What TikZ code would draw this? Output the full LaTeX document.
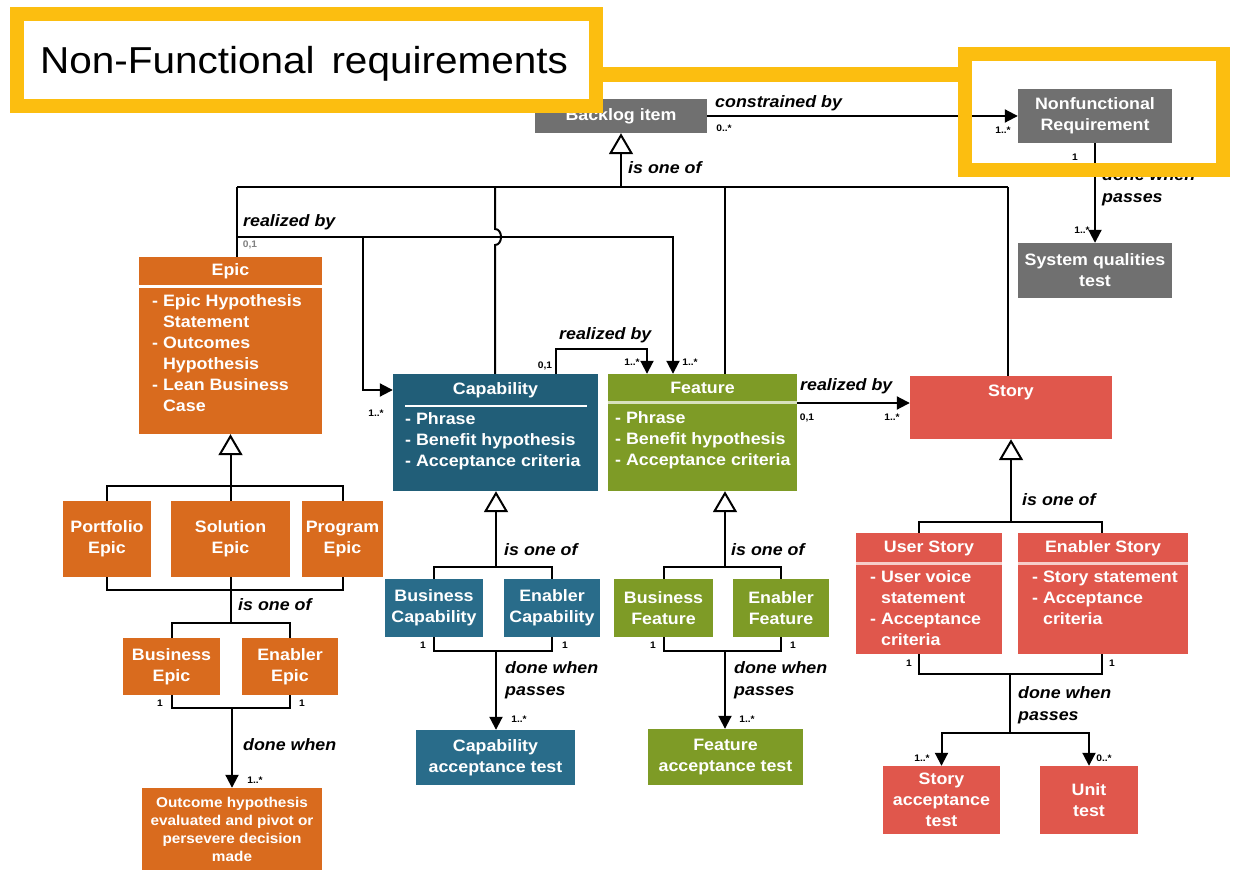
\documentclass[tikz,border=0pt]{standalone}
\usepackage{fontspec}
\setmainfont{Liberation Sans}[FakeStretch=1.08]
\usetikzlibrary{arrows.meta,calc}

\definecolor{nfgold}{RGB}{252,190,16}
\definecolor{bgray}{RGB}{112,112,112}
\definecolor{epicor}{RGB}{217,107,30}
\definecolor{capteal}{RGB}{33,94,120}
\definecolor{capteal2}{RGB}{41,108,138}
\definecolor{featgrn}{RGB}{126,155,38}
\definecolor{storyred}{RGB}{224,87,76}

\tikzset{
  box/.style={draw=none, inner sep=0pt, text=white, align=center,
              font=\fontsize{16.5}{21}\selectfont\bfseries},
  smallbox/.style={box, font=\fontsize{14.2}{18}\selectfont\bfseries},
  bodytext/.style={inner sep=0pt, text=white, anchor=west,
                   font=\fontsize{16.5}{21}\selectfont\bfseries},
  rel/.style={inner sep=0pt, anchor=west, align=left,
              font=\fontsize{16.5}{22}\selectfont\bfseries\itshape},
  mult/.style={inner sep=0pt, font=\fontsize{9.5}{11}\selectfont\bfseries},
  conn/.style={line width=2pt},
  arr/.style={conn, -{Triangle[length=13pt,width=13pt]}},
  gen/.style={conn, -{Triangle[open,length=21pt,width=24pt]}},
  frame/.style={draw=nfgold, line width=14pt, inner sep=0pt}
}

\begin{document}
\begin{tikzpicture}[x=1pt, y=-1pt]
\useasboundingbox (0,0) rectangle (1235,872);

% ---------- top row ----------
\node[box, fill=bgray, minimum width=172pt, minimum height=34pt] (backlog) at (621,116) {Backlog item};
\node[box, fill=bgray, minimum width=154pt, minimum height=54pt] (nfr) at (1095,116) {Nonfunctional\\Requirement};
\node[box, fill=bgray, minimum width=154pt, minimum height=55pt] (sqt) at (1095,270.5) {System qualities\\test};

% ---------- Epic ----------
\node[box, fill=epicor, minimum width=183pt, minimum height=177pt] (epic) at (230.5,345.5) {};
\draw[white, line width=3pt] (139,286.5) -- (322,286.5);
\node[box] (epicT) at (230.5,271) {Epic};
\node[bodytext] (epicB) at (152,355) {\begin{tabular}{@{}l@{\ }l@{}}
-&Epic Hypothesis\\ &Statement\\ -&Outcomes\\ &Hypothesis\\ -&Lean Business\\ &Case
\end{tabular}};

\node[box, fill=epicor, minimum width=88pt, minimum height=76pt] (portf) at (107,539) {Portfolio\\Epic};
\node[box, fill=epicor, minimum width=119pt, minimum height=76pt] (solut) at (230.5,539) {Solution\\Epic};
\node[box, fill=epicor, minimum width=81pt, minimum height=76pt] (progr) at (342.5,539) {Program\\Epic};
\node[box, fill=epicor, minimum width=97pt, minimum height=57pt] (bizE) at (171.5,666.5) {Business\\Epic};
\node[box, fill=epicor, minimum width=96pt, minimum height=57pt] (enaE) at (290,666.5) {Enabler\\Epic};
\node[smallbox, fill=epicor, minimum width=180pt, minimum height=82pt] (outc) at (232,829)
  {Outcome hypothesis\\evaluated and pivot or\\persevere decision\\made};

% ---------- Capability ----------
\node[box, fill=capteal, minimum width=205pt, minimum height=117pt] (cap) at (495.5,432.5) {};
\draw[white, line width=2pt] (405,406) -- (587,406);
\node[box] (capT) at (495.5,390) {Capability};
\node[bodytext] (capB) at (405,441.5) {\begin{tabular}{@{}l@{\ }l@{}}
-&Phrase\\ -&Benefit hypothesis\\ -&Acceptance criteria
\end{tabular}};
\node[box, fill=capteal2, minimum width=98pt, minimum height=58pt] (bizC) at (434,608) {Business\\Capability};
\node[box, fill=capteal2, minimum width=96pt, minimum height=58pt] (enaC) at (552,608) {Enabler\\Capability};
\node[box, fill=capteal2, minimum width=159pt, minimum height=55pt] (capAT) at (495.5,757.5) {Capability\\acceptance test};

% ---------- Feature ----------
\node[box, fill=featgrn, minimum width=189pt, minimum height=117pt] (feat) at (702.5,432.5) {};
\draw[white!70!featgrn, line width=3pt] (608,402) -- (797,402);
\node[box] (featT) at (702.5,388) {Feature};
\node[bodytext] (featB) at (615,440.5) {\begin{tabular}{@{}l@{\ }l@{}}
-&Phrase\\ -&Benefit hypothesis\\ -&Acceptance criteria
\end{tabular}};
\node[box, fill=featgrn, minimum width=99pt, minimum height=58pt] (bizF) at (663.5,608) {Business\\Feature};
\node[box, fill=featgrn, minimum width=96pt, minimum height=58pt] (enaF) at (781,608) {Enabler\\Feature};
\node[box, fill=featgrn, minimum width=155pt, minimum height=56pt] (featAT) at (725.5,757) {Feature\\acceptance test};

% ---------- Story ----------
\node[box, fill=storyred, minimum width=202pt, minimum height=63pt] (story) at (1011,407.5) {};
\node[box] (storyT) at (1011,392) {Story};
\node[box, fill=storyred, minimum width=146pt, minimum height=121pt] (usr) at (929,593.5) {};
\draw[white!70!storyred, line width=3pt] (856,563.5) -- (1002,563.5);
\node[box] (usrT) at (929,548) {User Story};
\node[bodytext] (usrB) at (870,610) {\begin{tabular}{@{}l@{\ }l@{}}
-&User voice\\ &statement\\ -&Acceptance\\ &criteria
\end{tabular}};
\node[box, fill=storyred, minimum width=170pt, minimum height=121pt] (ens) at (1103,593.5) {};
\draw[white!70!storyred, line width=3pt] (1018,563.5) -- (1188,563.5);
\node[box] (ensT) at (1103,548) {Enabler Story};
\node[bodytext] (ensB) at (1032,599) {\begin{tabular}{@{}l@{\ }l@{}}
-&Story statement\\ -&Acceptance\\ &criteria
\end{tabular}};
\node[box, fill=storyred, minimum width=117pt, minimum height=68pt] (sat) at (941.5,800) {Story\\acceptance\\test};
\node[box, fill=storyred, minimum width=98pt, minimum height=68pt] (unit) at (1089,800) {Unit\\test};

% ---------- backlog generalisation bus ----------
\coordinate (bbus) at (621,187);
\coordinate (busW) at (237,187);
\coordinate (busC) at (495,187);
\coordinate (busF) at (725,187);
\coordinate (busE) at (1008,187);
\draw[gen] (bbus) -- (backlog.south);
\draw[conn] (busW) -- (busE);
\draw[conn] (busW) -- (busW |- epic.north);
\coordinate (hopA) at (495,229);
\coordinate (hopB) at (495,245);
\draw[conn] (busC) -- (hopA) .. controls (503,229) and (503,245) .. (hopB) -- (hopB |- cap.north);
\draw[conn] (busF) -- (busF |- feat.north);
\draw[conn] (busE) -- (busE |- story.north);

% ---------- realized by ----------
\coordinate (rbW) at (237,237);
\coordinate (rbB) at (363,237);
\coordinate (rbE) at (673,237);
\coordinate (capArr) at (363,390);
\draw[arr] (rbW) -- (rbE) -- (rbE |- feat.north);
\draw[arr] (rbB) -- (capArr) -- (capArr -| cap.west);
\coordinate (cfA) at (556,349);
\coordinate (cfB) at (647,349);
\draw[arr] (cfA |- cap.north) -- (cfA) -- (cfB) -- (cfB |- feat.north);
\coordinate (fsY) at (0,403);
\draw[arr] (feat.east |- fsY) -- (story.west |- fsY);

% ---------- constrained by / done when ----------
\draw[arr] (backlog.east) -- (nfr.west);
\draw[arr] (nfr.south) -- (sqt.north);

% ---------- Epic tree ----------
\coordinate (eBus) at (230.5,486);
\draw[gen] (eBus) -- (eBus |- epic.south);
\draw[conn] (portf.north) |- (progr.north |- eBus) -- (progr.north);
\draw[conn] (eBus) -- (solut.north);
\coordinate (eBus2) at (230.5,590);
\draw[conn] (portf.south) |- (progr.south |- eBus2) -- (progr.south);
\draw[conn] (solut.south) -- (eBus2);
\coordinate (eBus3) at (230.5,623);
\draw[conn] (eBus2) -- (eBus3);
\draw[conn] (bizE.north) |- (enaE.north |- eBus3) -- (enaE.north);
\coordinate (eBus4) at (232,708);
\draw[conn] (bizE.south) |- (enaE.south |- eBus4) -- (enaE.south);
\draw[arr] (eBus4) -- (outc.north);

% ---------- Capability tree ----------
\coordinate (cBus) at (496,567);
\draw[gen] (cBus) -- (cBus |- cap.south);
\draw[conn] (bizC.north) |- (enaC.north |- cBus) -- (enaC.north);
\coordinate (cBus2) at (496,651);
\draw[conn] (bizC.south) |- (enaC.south |- cBus2) -- (enaC.south);
\draw[arr] (cBus2) -- (cBus2 |- capAT.north);

% ---------- Feature tree ----------
\coordinate (fBus) at (725,567);
\draw[gen] (fBus) -- (fBus |- feat.south);
\draw[conn] (bizF.north) |- (enaF.north |- fBus) -- (enaF.north);
\coordinate (fBus2) at (725,651);
\draw[conn] (bizF.south) |- (enaF.south |- fBus2) -- (enaF.south);
\draw[arr] (fBus2) -- (fBus2 |- featAT.north);

% ---------- Story tree ----------
\coordinate (sBus) at (1011,522);
\draw[gen] (sBus) -- (sBus |- story.south);
\coordinate (sL) at (919,522);
\coordinate (sR) at (1102,522);
\draw[conn] (sL |- usr.north) -- (sL) -- (sR) -- (sR |- ens.north);
\coordinate (sL2) at (919,674);
\coordinate (sR2) at (1102,674);
\draw[conn] (sL2 |- usr.south) -- (sL2) -- (sR2) -- (sR2 |- ens.south);
\coordinate (sM) at (1010,674);
\coordinate (sM2) at (1010,733);
\draw[conn] (sM) -- (sM2);
\draw[arr] (sM2) -| (sat.north);
\draw[arr] (sM2) -| (unit.north);

% ---------- association labels ----------
\node[rel] (lConstr) at (715,103) {constrained by};
\node[rel] (lBkOne) at (628,168) {is one of};
\node[rel] (lNfrDone) at (1102,187) {done when\\passes};
\node[rel] (lEpicReal) at (243,222) {realized by};
\node[rel] (lCapReal) at (559,335) {realized by};
\node[rel] (lFeatReal) at (800,386) {realized by};
\node[rel] (lEpicOne) at (238,605) {is one of};
\node[rel] (lEpicDone) at (243,745) {done when};
\node[rel] (lCapOne) at (504,550) {is one of};
\node[rel] (lCapDone) at (505,680.5) {done when\\passes};
\node[rel] (lFeatOne) at (731,550) {is one of};
\node[rel] (lFeatDone) at (734,680.5) {done when\\passes};
\node[rel] (lStoryOne) at (1022,500) {is one of};
\node[rel] (lStoryDone) at (1018,705) {done when\\passes};

% ---------- multiplicities ----------
\node[mult] (m1) at (724,128) {0..*};
\node[mult] (m2) at (1003,130) {1..*};
\node[mult] (m3) at (1075,157) {1};
\node[mult] (m4) at (1082,230) {1..*};
\node[mult, text=gray] (m5) at (250,245) {0,1};
\node[mult] (m6) at (376,413) {1..*};
\node[mult] (m7) at (545,366) {0,1};
\node[mult] (m8) at (632,362) {1..*};
\node[mult] (m9) at (690,362) {1..*};
\node[mult] (m10) at (807,418) {0,1};
\node[mult] (m11) at (892,417) {1..*};
\node[mult] (m12) at (160,703) {1};
\node[mult] (m13) at (302,703) {1};
\node[mult] (m14) at (255,780) {1..*};
\node[mult] (m15) at (423,645) {1};
\node[mult] (m16) at (565,645) {1};
\node[mult] (m17) at (519,719) {1..*};
\node[mult] (m18) at (653,645) {1};
\node[mult] (m19) at (793,645) {1};
\node[mult] (m20) at (747,719) {1..*};
\node[mult] (m21) at (909,663) {1};
\node[mult] (m22) at (1112,663) {1};
\node[mult] (m23) at (922,758) {1..*};
\node[mult] (m24) at (1104,758) {0..*};

% ---------- highlight frames ----------
\node[frame, fill=white, minimum width=579pt, minimum height=92pt] (title) at (306.5,60) {};
\node[inner sep=0pt, font=\fontsize{37.5}{42}\selectfont] (titleT) at (304,64)
      {Non-Functional\hspace{0.45em}requirements};
\node[frame, minimum width=258pt, minimum height=116pt] (nfrframe) at (1094,112) {};
\coordinate (barL) at (596,75);
\coordinate (barR) at (965,75);
\draw[draw=nfgold, line width=15pt] (barL) -- (barR);

\end{tikzpicture}
\end{document}
